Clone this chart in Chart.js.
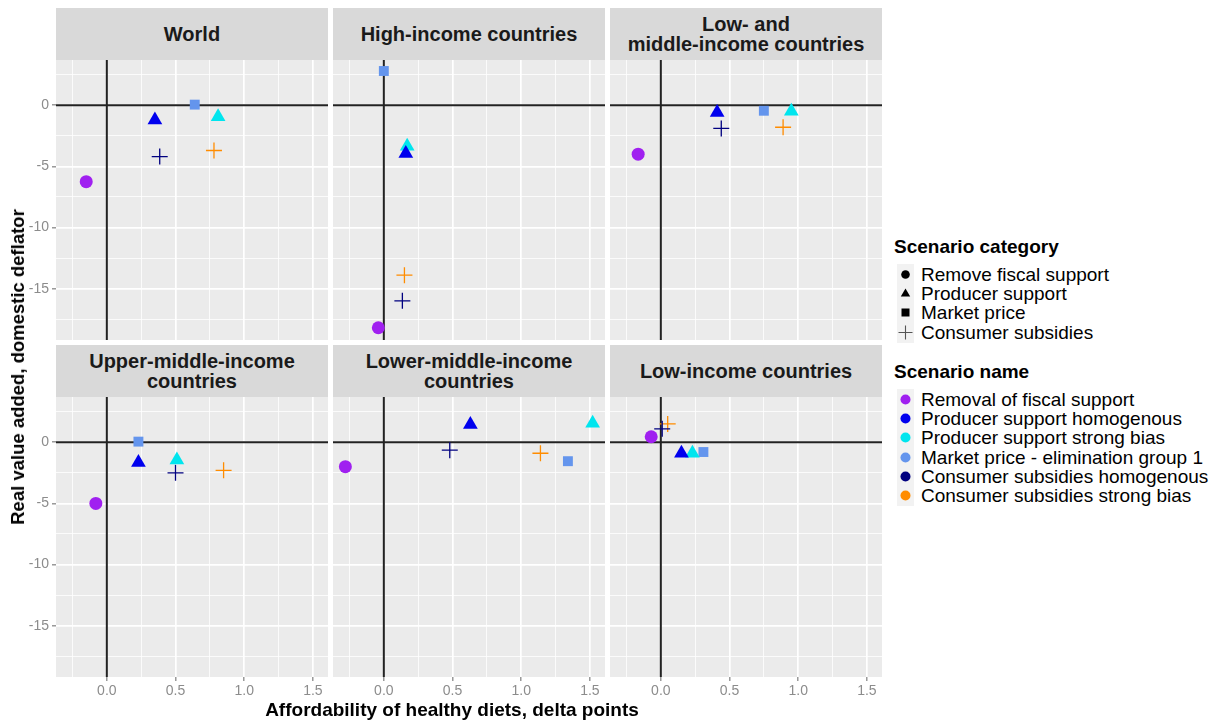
<!DOCTYPE html>
<html>
<head>
<meta charset="utf-8">
<script src="https://cdn.jsdelivr.net/npm/chart.js@4.4.1/dist/chart.umd.min.js"></script>
<style>
  body { margin: 0; background: #fff; font-family: "Liberation Sans", Arial, sans-serif; }
  #wrap { position: relative; width: 1224px; height: 725px; overflow: hidden; }
  .strip { position: absolute; background: #D9D9D9; display: flex; align-items: center; justify-content: center;
           text-align: center; font-weight: bold; font-size: 20px; line-height: 20px; color: #1a1a1a; white-space: pre-line; }
  canvas.panel { position: absolute; }
  .axis-title { position: absolute; font-weight: bold; color: #000; white-space: nowrap; }
  .lg-title { position: absolute; font-weight: bold; font-size: 19px; line-height: 20px; color: #000; white-space: nowrap; }
  .lg-row { position: absolute; font-size: 19px; line-height: 19.2px; height: 19.2px; color: #000; white-space: nowrap; }
  .lg-key { position: absolute; background: #F2F2F2; }
</style>
</head>
<body>
<div id="wrap"></div>
<script>
// facets, in reading order
const panels = ['World', 'High-income countries', 'Low- and\nmiddle-income countries',
                'Upper-middle-income\ncountries', 'Lower-middle-income\ncountries', 'Low-income countries'];

// affordability (x) and real value added (y), one entry per facet
const fiscalX      = [-0.15, -0.04, -0.165, -0.08, -0.28, -0.07];
const fiscalY      = [-6.25, -18.2, -4.0, -5.0, -2.0, 0.45];
const prodHomX     = [0.35, 0.16, 0.41, 0.23, 0.63, 0.15];
const prodHomY     = [-1.2, -3.95, -0.6, -1.65, 1.45, -0.9];
const prodBiasX    = [0.81, 0.17, 0.95, 0.51, 1.52, 0.23];
const prodBiasY    = [-0.95, -3.35, -0.5, -1.45, 1.55, -0.9];
const marketX      = [0.64, 0.0, 0.75, 0.23, 1.34, 0.31];
const marketY      = [0.05, 2.8, -0.45, 0.05, -1.55, -0.8];
const consHomX     = [0.385, 0.135, 0.44, 0.50, 0.48, 0.01];
const consHomY     = [-4.2, -16.0, -1.9, -2.5, -0.65, 1.1];
const consBiasX    = [0.78, 0.15, 0.89, 0.85, 1.14, 0.05];
const consBiasY    = [-3.7, -13.9, -1.8, -2.3, -0.9, 1.5];

const scenarioNames  = ['Removal of fiscal support', 'Producer support homogenous', 'Producer support strong bias',
                        'Market price - elimination group 1', 'Consumer subsidies homogenous', 'Consumer subsidies strong bias'];
const scenarioColors = ['#A020F0', '#0000EE', '#00E5EE', '#6495ED', '#000080', '#FF8C00'];
const scenarioCat    = [0, 1, 1, 2, 3, 3];
const scenarioX      = [fiscalX, prodHomX, prodBiasX, marketX, consHomX, consBiasX];
const scenarioY      = [fiscalY, prodHomY, prodBiasY, marketY, consHomY, consBiasY];

const categoryNames  = ['Remove fiscal support', 'Producer support', 'Market price', 'Consumer subsidies'];
const categoryStyles = ['circle', 'triangle', 'rect', 'cross'];
const categoryRadius = [6.5, 8.5, 7, 8];

// shared axes
const xMin = -0.37, xMax = 1.61;
const yMin = -19.2, yMax = 3.7;
const xMajor = [0, 0.5, 1.0, 1.5];
const xMinor = [-0.25, 0.25, 0.75, 1.25];
const yMajor = [-15, -10, -5, 0];
const yMinor = [-17.5, -12.5, -7.5, -2.5, 2.5];

// facet grid geometry
const colLeft = [56, 333, 610], panelW = 272;
const stripTop = [8, 345], stripH = 52, plotH = 280;
const yAxisW = 38, xAxisH = 24;

const wrap = document.getElementById('wrap');

const panelBg = {
  id: 'panelBg',
  beforeDraw(chart) {
    const { ctx, chartArea: a } = chart;
    ctx.save();
    ctx.fillStyle = '#EBEBEB';
    ctx.fillRect(a.left, a.top, a.right - a.left, a.bottom - a.top);
    ctx.restore();
  }
};

// black reference lines through the origin
const zeroLines = {
  id: 'zeroLines',
  beforeDatasetsDraw(chart) {
    const { ctx, chartArea: a, scales: { x, y } } = chart;
    const px = x.getPixelForValue(0), py = y.getPixelForValue(0);
    ctx.save();
    ctx.strokeStyle = '#222';
    ctx.lineWidth = 2;
    ctx.beginPath();
    ctx.moveTo(px, a.top); ctx.lineTo(px, a.bottom);
    ctx.moveTo(a.left, py); ctx.lineTo(a.right, py);
    ctx.stroke();
    ctx.restore();
  }
};

function sorted(a, b) { return a.concat(b).sort((p, q) => p - q); }

function makePanel(idx) {
  const col = idx % 3, row = Math.floor(idx / 3);
  const showY = col === 0, showX = row === 1;

  const strip = document.createElement('div');
  strip.className = 'strip';
  strip.textContent = panels[idx];
  Object.assign(strip.style, { left: colLeft[col] + 'px', top: stripTop[row] + 'px', width: panelW + 'px', height: stripH + 'px' });
  wrap.appendChild(strip);

  const cv = document.createElement('canvas');
  cv.className = 'panel';
  const w = panelW + (showY ? yAxisW : 0), h = plotH + (showX ? xAxisH : 0);
  cv.width = w; cv.height = h;
  Object.assign(cv.style, { left: (colLeft[col] - (showY ? yAxisW : 0)) + 'px', top: (stripTop[row] + stripH) + 'px',
                            width: w + 'px', height: h + 'px' });
  wrap.appendChild(cv);

  const datasets = scenarioNames.map((name, s) => {
    const cat = scenarioCat[s];
    const isCross = categoryStyles[cat] === 'cross';
    return {
      label: name,
      data: [{ x: scenarioX[s][idx], y: scenarioY[s][idx] }],
      pointStyle: categoryStyles[cat],
      pointRadius: categoryRadius[cat],
      backgroundColor: scenarioColors[s],
      borderColor: scenarioColors[s],
      borderWidth: isCross ? 1.3 : 0
    };
  });

  const gridWidth = major => ctx => (major.includes(ctx.tick && ctx.tick.value) ? 1.7 : 0.8);
  const tickCol = major => ctx => (major.includes(ctx.tick && ctx.tick.value) ? '#666' : 'rgba(0,0,0,0)');
  const noPad = s => { s.paddingTop = 0; s.paddingBottom = 0; s.paddingLeft = 0; s.paddingRight = 0; };

  new Chart(cv, {
    type: 'scatter',
    data: { datasets },
    options: {
      responsive: false,
      animation: false,
      events: [],
      layout: { padding: 0, autoPadding: false },
      plugins: { legend: { display: false }, tooltip: { enabled: false } },
      scales: {
        x: {
          type: 'linear', min: xMin, max: xMax,
          afterBuildTicks: s => { s.ticks = sorted(xMajor, xMinor).map(v => ({ value: v })); },
          afterFit: s => { s.height = showX ? xAxisH : 0; noPad(s); },
          border: { display: false },
          grid: { color: '#fff', lineWidth: gridWidth(xMajor), drawTicks: showX, tickLength: 4, tickColor: tickCol(xMajor), tickWidth: 1 },
          ticks: { display: showX, autoSkip: false, maxRotation: 0, padding: 2, color: '#8c8c8c',
                   font: { family: 'Liberation Sans', size: 14 },
                   callback: v => (xMajor.includes(v) ? v.toFixed(1) : '') }
        },
        y: {
          type: 'linear', min: yMin, max: yMax,
          afterBuildTicks: s => { s.ticks = sorted(yMajor, yMinor).map(v => ({ value: v })); },
          afterFit: s => { s.width = showY ? yAxisW : 0; noPad(s); },
          border: { display: false },
          grid: { color: '#fff', lineWidth: gridWidth(yMajor), drawTicks: showY, tickLength: 4, tickColor: tickCol(yMajor), tickWidth: 1 },
          ticks: { display: showY, autoSkip: false, padding: 3, color: '#8c8c8c',
                   font: { family: 'Liberation Sans', size: 14 },
                   callback: v => (yMajor.includes(v) ? String(v) : '') }
        }
      }
    },
    plugins: [panelBg, zeroLines]
  });
}

panels.forEach((_, i) => makePanel(i));

// axis titles
const xt = document.createElement('div');
xt.className = 'axis-title';
xt.textContent = 'Affordability of healthy diets, delta points';
Object.assign(xt.style, { fontSize: '19px', left: '452px', top: '699px', transform: 'translateX(-50%)' });
wrap.appendChild(xt);

const yt = document.createElement('div');
yt.className = 'axis-title';
yt.textContent = 'Real value added, domestic deflator';
Object.assign(yt.style, { fontSize: '18.5px', left: '18px', top: '367px', transform: 'translate(-50%, -50%) rotate(-90deg)' });
wrap.appendChild(yt);

// legends
function keySvg(style, color) {
  const c = color;
  if (style === 'circle') return `<svg width="17" height="19"><circle cx="8.5" cy="9.5" r="4.3" fill="${c}"/></svg>`;
  if (style === 'triangle') return `<svg width="17" height="19"><polygon points="8.5,4.5 13.2,12.6 3.8,12.6" fill="${c}"/></svg>`;
  if (style === 'rect') return `<svg width="17" height="19"><rect x="4.5" y="5.5" width="8" height="8" fill="${c}"/></svg>`;
  return `<svg width="17" height="19"><path d="M8.5 2.5V16.5M1.5 9.5H15.5" stroke="#555" stroke-width="1.1" fill="none"/></svg>`;
}

function legendBlock(title, top, labels, keys) {
  const t = document.createElement('div');
  t.className = 'lg-title';
  t.textContent = title;
  Object.assign(t.style, { left: '894px', top: top + 'px' });
  wrap.appendChild(t);
  const firstRow = top + 28;
  const bg = document.createElement('div');
  bg.className = 'lg-key';
  Object.assign(bg.style, { left: '897px', top: (firstRow - 1) + 'px', width: '17px', height: (labels.length * 19.2 + 2) + 'px' });
  wrap.appendChild(bg);
  labels.forEach((lab, i) => {
    const r = document.createElement('div');
    r.className = 'lg-row';
    Object.assign(r.style, { left: '897px', top: (firstRow + i * 19.2) + 'px' });
    r.innerHTML = `<span style="position:absolute;left:0;top:0">${keys[i]}</span><span style="position:absolute;left:24px;top:0">${lab}</span>`;
    wrap.appendChild(r);
  });
}

legendBlock('Scenario category', 237, categoryNames, categoryStyles.map(s => keySvg(s, '#000')));
legendBlock('Scenario name', 362, scenarioNames, scenarioColors.map(c => keySvg('circle', c).replace('r="4.3"', 'r="5"')));
</script>
</body>
</html>
